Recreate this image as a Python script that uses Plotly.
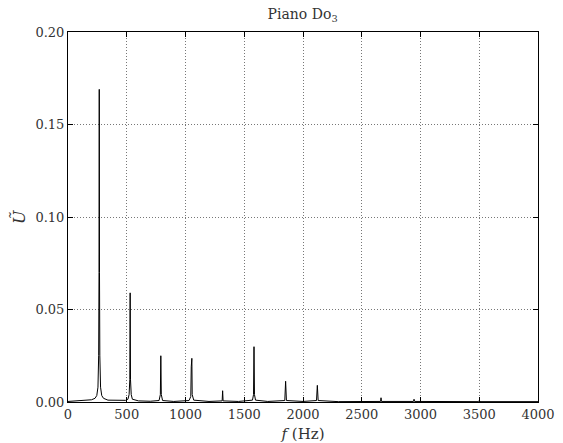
import plotly.graph_objects as go

# Spectrum samples (frequency in Hz, amplitude)
freq = [0, 50, 150, 200, 230, 245, 255, 261, 264, 266, 268, 271, 277, 287, 302, 340, 420,
        490, 510, 520, 526, 529, 532, 538, 548, 600, 700,
        775, 786, 790, 794, 805, 900,
        1030, 1045, 1049, 1051, 1054, 1057, 1070, 1200,
        1312, 1316, 1320, 1450,
        1570, 1579, 1583, 1587, 1596, 1700,
        1845, 1852, 1859, 2000,
        2115, 2122, 2129, 2300,
        2660, 2664, 2668, 2940, 2945, 2950,
        3495, 3500, 3505, 4000]
amp = [0.0003, 0.0006, 0.0008, 0.0012, 0.002, 0.0035, 0.008, 0.025, 0.07, 0.169, 0.07, 0.025, 0.008, 0.0035, 0.002, 0.001, 0.0008,
       0.0009, 0.0015, 0.004, 0.012, 0.059, 0.012, 0.004, 0.0015, 0.0006, 0.0004,
       0.0008, 0.004, 0.025, 0.004, 0.0008, 0.0003,
       0.0008, 0.003, 0.019, 0.006, 0.0236, 0.004, 0.001, 0.0003,
       0.0006, 0.0061, 0.0006, 0.0003,
       0.001, 0.004, 0.0299, 0.004, 0.001, 0.0003,
       0.0008, 0.0112, 0.0008, 0.0003,
       0.0008, 0.009, 0.0008, 0.0002,
       0.0003, 0.0023, 0.0003, 0.0003, 0.0015, 0.0003,
       0.0002, 0.0008, 0.0002, 0.0002]

x_ticks = [0, 500, 1000, 1500, 2000, 2500, 3000, 3500, 4000]
y_ticks = [0.0, 0.05, 0.10, 0.15, 0.20]
y_tick_labels = ["0.00", "0.05", "0.10", "0.15", "0.20"]

FONT = "DejaVu Serif, Liberation Serif, serif"

fig = go.Figure()
fig.add_trace(go.Scatter(x=freq, y=amp, mode="lines",
                         line=dict(color="black", width=1), hoverinfo="skip"))

axis_common = dict(showline=True, linecolor="black", linewidth=1, mirror="ticks",
                   ticks="inside", ticklen=5, tickcolor="black", tickwidth=1,
                   showgrid=True, gridcolor="#777777", griddash="1px,2px", gridwidth=1,
                   zeroline=False, automargin=False,
                   tickfont=dict(family=FONT, size=13, color="#333"))

fig.update_layout(
    width=563, height=443,
    margin=dict(l=68, r=25, t=32, b=41, autoexpand=False),
    paper_bgcolor="white", plot_bgcolor="white",
    showlegend=False,
    title=dict(text="Piano Do<sub>3</sub>", x=0.5375, xanchor="center", y=0.968, yanchor="middle",
               font=dict(family=FONT, size=14, color="#333")),
    xaxis=dict(range=[0, 4000], tickvals=x_ticks, **axis_common,
               title=dict(text="<i>f</i> (Hz)", font=dict(family=FONT, size=15, color="#333"))),
    yaxis=dict(range=[0, 0.20], tickvals=y_ticks, ticktext=y_tick_labels, **axis_common),
    annotations=[dict(text="<i>Ũ</i>", xref="paper", yref="paper", x=-0.104, y=0.5,
                      xanchor="center", yanchor="middle", textangle=-90, showarrow=False,
                      font=dict(family=FONT, size=16, color="#333"))],
)

fig.write_html("out.html")
